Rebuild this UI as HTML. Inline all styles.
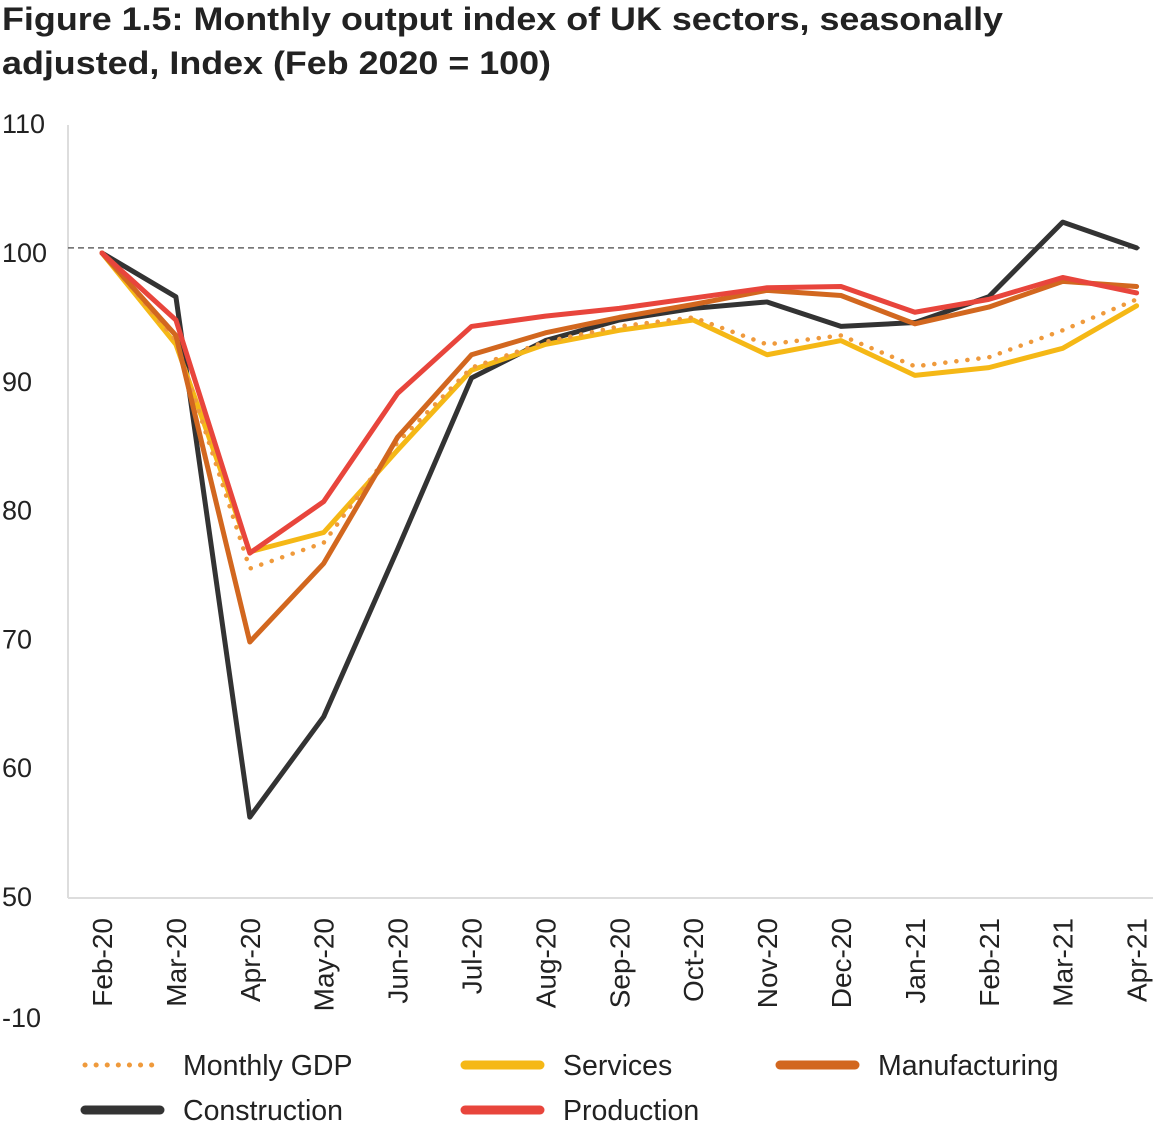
<!DOCTYPE html>
<html><head><meta charset="utf-8"><style>
body{margin:0;background:#fff;font-family:"Liberation Sans",sans-serif;}
svg{display:block}
</style></head><body>
<svg id="c" width="1153" height="1137">
<text x="2" y="30" font-size="32" font-weight="bold" fill="#222" textLength="1001" lengthAdjust="spacingAndGlyphs">Figure 1.5: Monthly output index of UK sectors, seasonally</text>
<text x="2" y="74" font-size="32" font-weight="bold" fill="#222" textLength="549" lengthAdjust="spacingAndGlyphs">adjusted, Index (Feb 2020 = 100)</text>
<g id="g"></g>
</svg>
<script>
const categories=["Feb-20","Mar-20","Apr-20","May-20","Jun-20","Jul-20","Aug-20","Sep-20","Oct-20","Nov-20","Dec-20","Jan-21","Feb-21","Mar-21","Apr-21"];
const yTicks=[50,60,70,80,90,100,110];
const gdp=[100,93.2,75.5,77.5,85.3,91.1,93.1,94.3,95,92.9,93.6,91.2,91.9,94,96.4];
const services=[100,92.9,76.8,78.3,84.7,90.9,92.9,94,94.8,92.1,93.2,90.5,91.1,92.6,95.9];
const manufacturing=[100,93.6,69.8,75.9,85.7,92.1,93.8,95,96,97.1,96.7,94.5,95.8,97.8,97.4];
const construction=[100,96.6,56.2,64,77,90.3,93.2,94.8,95.7,96.2,94.3,94.6,96.6,102.4,100.4];
const production=[100,94.8,76.7,80.7,89.1,94.3,95.1,95.7,96.5,97.3,97.4,95.4,96.4,98.1,96.9];
const refLine=100.4;
const NS="http://www.w3.org/2000/svg",g=document.getElementById('g');
const X=i=>102+i*73.9, Y=v=>253-(v-100)*12.88;
function mk(t,a){const e=document.createElementNS(NS,t);for(const k in a)e.setAttribute(k,a[k]);g.appendChild(e);return e;}
let e=mk('line',{x1:68,x2:68,y1:125,y2:898,stroke:'#ddd','stroke-width':2});

e=mk('line',{x1:68,x2:1153,y1:898,y2:898,stroke:'#ddd','stroke-width':2});

yTicks.forEach(v=>{const t=mk('text',{x:2,y:Y(v)+9,'font-size':27,fill:'#222'});t.textContent=v;
});
e=mk('text',{x:2,y:1027,'font-size':27,fill:'#222'});e.textContent='-10';

e=mk('line',{x1:68,x2:1140,y1:Y(refLine),y2:Y(refLine),stroke:'#666','stroke-width':1.5,'stroke-dasharray':'6 4'});

categories.forEach((c,i)=>{const t=mk('text',{x:0,y:0,'font-size':28,fill:'#222','text-anchor':'end',transform:`translate(${X(i)+10},918) rotate(-90)`});t.textContent=c;
});
function line(d,col,name,dash){const p=mk('polyline',{points:d.map((v,i)=>X(i)+','+Y(v)).join(' '),fill:'none',stroke:col,'stroke-width':dash?4.5:5,'stroke-linejoin':'round','stroke-linecap':'round'});
if(dash)p.setAttribute('stroke-dasharray',dash);
}
line(construction,'#333','construction-line');
line(services,'#f5b816','services-line');
line(gdp,'#ef9a3c','monthly-gdp-line','0.1 11');
line(manufacturing,'#d2671f','manufacturing-line');
line(production,'#e8453c','production-line');
const leg=[["Monthly GDP","#ef9a3c",85,1065,1],["Services","#f5b816",465,1065,0],["Manufacturing","#d2671f",780,1065,0],["Construction","#333",85,1110,0],["Production","#e8453c",465,1110,0]];
leg.forEach(l=>{const s=mk('line',{x1:l[2],x2:l[2]+75,y1:l[3],y2:l[3],stroke:l[1],'stroke-width':l[4]?5:9,'stroke-linecap':'round'});
if(l[4])s.setAttribute('stroke-dasharray','0.1 11');

const t=mk('text',{x:l[2]+98,y:l[3]+10,'font-size':28.5,fill:'#222'});t.textContent=l[0];
});
</script>
</body></html>
